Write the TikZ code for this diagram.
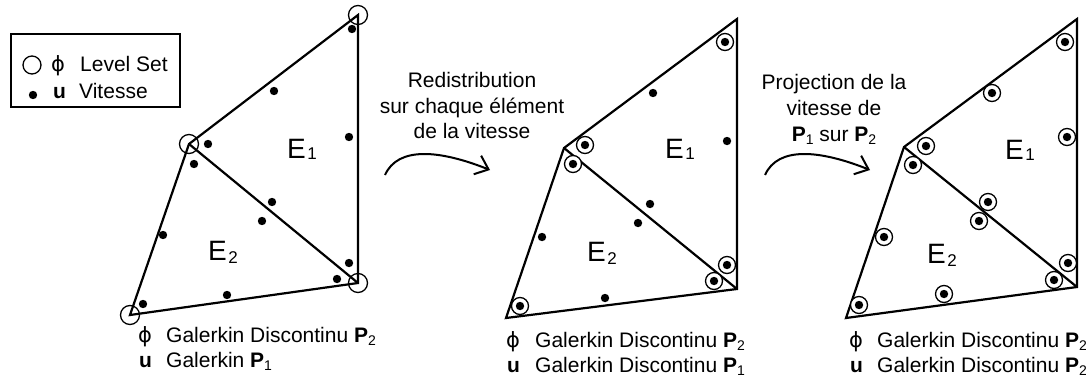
\documentclass[tikz,border=0pt]{standalone}
\usepackage{fontspec}
\setmainfont{Liberation Sans}
\newfontfamily\dvs{DejaVu Sans}
\usetikzlibrary{arrows.meta}
\newcommand\sbs[1]{\raisebox{-3pt}{\fontsize{14}{14}\selectfont #1}}
\newcommand\phisym{{\dvs\fontsize{21}{23}\selectfont ϕ}}
\newcommand\Elab[2]{{\fontsize{28}{30}\selectfont E}\kern1.5pt\raisebox{-#2}{\fontsize{17}{17}\selectfont #1}}
\begin{document}
\begin{tikzpicture}[x=1pt,y=-1pt,
  edge/.style={line width=2.2pt},
  vcirc/.style={line width=1.3pt},
  ccirc/.style={line width=1.3pt, fill=white},
  txt/.style={inner sep=0pt, anchor=base west, font=\fontsize{21}{25}\selectfont},
  ctxt/.style={inner sep=0pt, anchor=base, font=\fontsize{21}{25}\selectfont},
  flow/.style={line width=2pt, -{Straight Barb[length=12pt,width=20pt,line width=2pt]}}]
\useasboundingbox (0,0) rectangle (1086,383);

% ---------- legend ----------
\draw[line width=1.4pt] (11,34) rectangle (180,107);
\draw[vcirc] (32,65) circle (9pt);
\fill (33,95) circle (4.2pt);
\node[txt] (lphi) at (51,71) {\phisym};
\node[txt] (llev) at (80,71) {Level Set};
\node[txt] (lu) at (53,98) {\textbf{u}};
\node[txt] (lvit) at (79,98) {Vitesse};

% ---------- mesh 1 ----------
\coordinate (aT) at (358,15);
\coordinate (aL) at (189,144);
\coordinate (aR) at (358,283);
\coordinate (aB) at (130,315);
\draw[edge] (aT) -- (aL) -- (aB) -- (aR) -- cycle;
\draw[edge] (aL) -- (aR);
\foreach \v in {aT,aL,aR,aB} \draw[vcirc] (\v) circle (9.5pt);
\foreach \p in {(352,29),(274,91),(349,137),(208,144),(194,164),(272,202),(262,221),(163,235),(349,263),(337,279),(227,295),(143,304)}
  \fill \p circle (4.2pt);
\node[inner sep=0pt, anchor=base west] (aE1) at (287,158) {\Elab{1}{1pt}};
\node[inner sep=0pt, anchor=base west] (aE2) at (208,260) {\Elab{2}{3pt}};
\node[txt] (at1) at (138,342) {\makebox[28pt][l]{\phisym}Galerkin Discontinu \textbf{P}\sbs{2}};
\node[txt] (at2) at (139,367) {\makebox[27pt][l]{\textbf{u}}Galerkin \textbf{P}\sbs{1}};

% ---------- arrow 1 ----------
\node[ctxt] (r1) at (472,87) {Redistribution};
\node[ctxt] (r2) at (472,113) {sur chaque élément};
\node[ctxt] (r3) at (472,138) {de la vitesse};
\coordinate (f1s) at (385,175);
\coordinate (f1e) at (490,170);
\draw[flow] (f1s) .. controls (398,146) and (440,150) .. (f1e);

% ---------- mesh 2 ----------
\coordinate (bT) at (737,19);
\coordinate (bL) at (564,148);
\coordinate (bR) at (737,289);
\coordinate (bB) at (506,318);
\draw[edge] (bT) -- (bL) -- (bB) -- (bR) -- cycle;
\draw[edge] (bL) -- (bR);
\foreach \p in {(725,42),(585,145),(573,164),(727,265),(714,281),(520,306)}
  {\draw[ccirc] \p circle (8.5pt); \fill \p circle (4.2pt);}
\foreach \p in {(653,93),(727,141),(650,204),(638,223),(542,237),(605,298)}
  \fill \p circle (4.2pt);
\node[inner sep=0pt, anchor=base west] (bE1) at (665,158) {\Elab{1}{1pt}};
\node[inner sep=0pt, anchor=base west] (bE2) at (587,261) {\Elab{2}{3pt}};
\node[txt] (bt1) at (506,347) {\makebox[29pt][l]{\phisym}Galerkin Discontinu \textbf{P}\sbs{2}};
\node[txt] (bt2) at (507,372) {\makebox[28pt][l]{\textbf{u}}Galerkin Discontinu \textbf{P}\sbs{1}};

% ---------- arrow 2 ----------
\node[ctxt] (p1) at (834,89) {Projection de la};
\node[ctxt] (p2) at (834,115) {vitesse de};
\node[ctxt] (p3) at (834,141) {\textbf{P}\sbs{1} sur \textbf{P}\sbs{2}};
\coordinate (f2s) at (765,175);
\coordinate (f2e) at (870,170);
\draw[flow] (f2s) .. controls (778,146) and (820,150) .. (f2e);

% ---------- mesh 3 ----------
\coordinate (cT) at (1077,19);
\coordinate (cL) at (904,147);
\coordinate (cR) at (1077,287);
\coordinate (cB) at (846,318);
\draw[edge] (cT) -- (cL) -- (cB) -- (cR) -- cycle;
\draw[edge] (cL) -- (cR);
\foreach \p in {(1065,42),(992,93),(1067,137),(926,146),(913,165),(988,202),(979,221),(884,237),(1068,263),(1054,280),(944,294),(859,305)}
  {\draw[ccirc] \p circle (8.5pt); \fill \p circle (4.2pt);}
\node[inner sep=0pt, anchor=base west] (cE1) at (1005,159) {\Elab{1}{1pt}};
\node[inner sep=0pt, anchor=base west] (cE2) at (927,263) {\Elab{2}{3pt}};
\node[txt] (ct1) at (849,347) {\makebox[28pt][l]{\phisym}Galerkin Discontinu \textbf{P}\sbs{2}};
\node[txt] (ct2) at (850,372) {\makebox[27pt][l]{\textbf{u}}Galerkin Discontinu \textbf{P}\sbs{2}};
\end{tikzpicture}
\end{document}
